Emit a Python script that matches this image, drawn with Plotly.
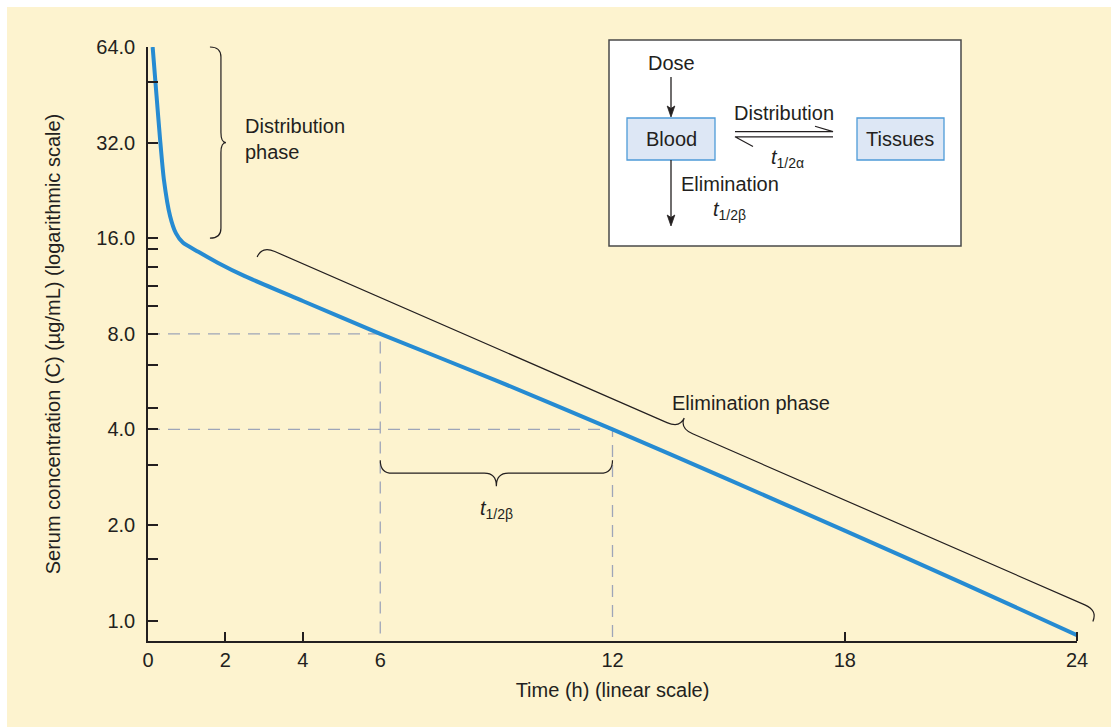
import numpy as np
import plotly.graph_objects as go

# ---------------- data ----------------
time_h = [0.12, 0.22, 0.31, 0.41, 0.57, 0.72, 0.9, 1.3, 1.8, 2.5, 4.0, 6, 9, 12, 15, 18, 21, 24]
conc = [64, 45, 33, 24.5, 18.8, 16.6, 15.5, 14.5, 13.4, 12.15, 10.15, 8.0, 5.7, 4.0, 2.78, 1.92, 1.32, 0.9]

x_tickvals = [0, 2, 4, 6, 12, 18, 24]
x_ticktext = ["0", "2", "4", "6", "12", "18", "24"]
x_minor_ticks = [2, 4, 18, 24]
y_tickvals = [1, 2, 4, 8, 16, 32, 64]
y_ticktext = ["1.0", "2.0", "4.0", "8.0", "16.0", "32.0", "64.0"]
y_minor_ticks = [1.56, 3.09, 4.68, 6.38, 9.79, 11.34, 13.0, 14.8, 49.8]

half_life_t = [6, 12]
half_life_c = [8.0, 4.0]

# ---------------- layout geometry ----------------
W, H = 1111, 727
L, R, T, B = 148, 1077, 47, 641
X_RANGE = [0, 24]
Y_RANGE = [float(np.log10(0.8626)), float(np.log10(64))]

INK = "#231F20"
CREAM = "#FDF3CF"
BLUE = "#268BD2"
DASH = "#9EA5B8"
FONT = "Liberation Sans, Arial, sans-serif"
FS = 20


def x2px(t):
    return L + (t - X_RANGE[0]) / (X_RANGE[1] - X_RANGE[0]) * (R - L)


def y2px(v):
    return B - (np.log10(v) - Y_RANGE[0]) / (Y_RANGE[1] - Y_RANGE[0]) * (B - T)


def pp(px, py):
    return (px - L) / (R - L), (B - py) / (B - T)


def path_str(cmds, close=False):
    out = []
    for c in cmds:
        if isinstance(c, str):
            out.append(c)
        else:
            x, y = pp(*c)
            out.append(f"{x:.5f},{y:.5f}")
    if close:
        out.append("Z")
    return " ".join(out)


def brace(A, Bp, h, tip, r):
    A = np.array(A, float)
    Bp = np.array(Bp, float)
    d = Bp - A
    ln = np.hypot(*d)
    u = d / ln
    n = np.array([u[1], -u[0]])
    M = (A + Bp) / 2
    pts = [
        "M", A,
        "Q", A + n * h, A + u * r + n * h,
        "L", M - u * r + n * h,
        "Q", M + n * h, M + n * tip,
        "Q", M + n * h, M + u * r + n * h,
        "L", Bp - u * r + n * h,
        "Q", Bp + n * h, Bp,
    ]
    return path_str([p if isinstance(p, str) else tuple(p) for p in pts])


fig = go.Figure()

# dashed half-life guides
for tt, cc in zip(half_life_t, half_life_c):
    fig.add_trace(go.Scatter(
        x=[0, tt, tt], y=[cc, cc, 0.5], mode="lines",
        line=dict(color=DASH, width=1.3, dash="12px,8px"),
        hoverinfo="skip", showlegend=False))

# concentration curve
fig.add_trace(go.Scatter(
    x=time_h, y=conc, mode="lines",
    line=dict(color=BLUE, width=4, shape="spline", smoothing=0.6),
    showlegend=False))

shapes = []
annotations = []

# background: white strips top/left
shapes.append(dict(type="rect", xref="paper", yref="paper",
                   x0=pp(0, 0)[0], y0=pp(0, 0)[1], x1=pp(W, 7)[0], y1=pp(W, 7)[1],
                   fillcolor="white", line=dict(width=0), layer="below"))
shapes.append(dict(type="rect", xref="paper", yref="paper",
                   x0=pp(0, 0)[0], y0=pp(0, 0)[1], x1=pp(7, H)[0], y1=pp(7, H)[1],
                   fillcolor="white", line=dict(width=0), layer="below"))

# braces
dist_x = x2px(1.6)
shapes.append(dict(type="path", xref="paper", yref="paper",
                   path=brace((dist_x, y2px(64)), (dist_x, y2px(16)), 11, 16, 10),
                   line=dict(color=INK, width=1.2)))
hb_y = y2px(3.2)
shapes.append(dict(type="path", xref="paper", yref="paper",
                   path=brace((x2px(12), hb_y), (x2px(6), hb_y), 13, 26, 12),
                   line=dict(color=INK, width=1.2)))
shapes.append(dict(type="path", xref="paper", yref="paper",
                   path=brace((x2px(2.82), y2px(13.97)), (x2px(24.41), y2px(0.994)), 12, 23, 14),
                   line=dict(color=INK, width=1.2)))


# inset diagram
def rect_px(x0, y0, x1, y1, fill, color, width):
    a = pp(x0, y1)
    b = pp(x1, y0)
    return dict(type="rect", xref="paper", yref="paper", x0=a[0], y0=a[1], x1=b[0], y1=b[1],
                fillcolor=fill, line=dict(color=color, width=width))


shapes.append(rect_px(609, 40, 961, 246, "white", "#4A4A4A", 1.5))
shapes.append(rect_px(627, 118, 715, 160, "#DDE7F5", "#4E9BD8", 1.3))
shapes.append(rect_px(857, 118, 944, 160, "#DDE7F5", "#4E9BD8", 1.3))
shapes.append(dict(type="path", xref="paper", yref="paper",
                   path=path_str(["M", (735, 131.7), "L", (833, 131.7), "L", (815, 126.3)]),
                   line=dict(color=INK, width=1.2)))
shapes.append(dict(type="path", xref="paper", yref="paper",
                   path=path_str(["M", (833, 136.8), "L", (735, 136.8), "L", (753, 146.5)]),
                   line=dict(color=INK, width=1.2)))


def arrow_down(x, y_tail, y_head):
    shapes.append(dict(type="path", xref="paper", yref="paper",
                       path=path_str(["M", (x, y_tail), "L", (x, y_head - 8)]),
                       line=dict(color=INK, width=1.3)))
    shapes.append(dict(type="path", xref="paper", yref="paper",
                       path=path_str(["M", (x, y_head), "L", (x - 3.8, y_head - 11),
                                      "L", (x, y_head - 8.5), "L", (x + 3.8, y_head - 11)], close=True),
                       fillcolor=INK, line=dict(color=INK, width=0.8)))


arrow_down(671, 77, 117)
arrow_down(671, 160, 226)


def text_px(x, y, s, xanchor="center", yanchor="middle", align="center", size=FS):
    px, py = pp(x, y)
    annotations.append(dict(x=px, y=py, xref="paper", yref="paper", text=s,
                            showarrow=False, xanchor=xanchor, yanchor=yanchor, align=align,
                            font=dict(family=FONT, size=size, color=INK)))


text_px(671, 63, "Dose")
text_px(671, 139, "Blood")
text_px(900, 139, "Tissues")
text_px(784, 113, "Distribution")
text_px(787, 158, "<i>t</i><sub>1/2α</sub>")
text_px(730, 184, "Elimination")
text_px(729, 210, "<i>t</i><sub>1/2β</sub>")

# chart annotations
text_px(243, 139, "Distribution<br>phase", xanchor="left", align="left")
text_px(670, 403, "Elimination phase", xanchor="left", align="left")
text_px((x2px(6) + x2px(12)) / 2, hb_y + 49, "<i>t</i><sub>1/2β</sub>")

fig.update_layout(
    width=W, height=H,
    margin=dict(l=L, r=W - R, t=T, b=H - B, pad=0),
    paper_bgcolor=CREAM, plot_bgcolor=CREAM,
    font=dict(family=FONT, size=FS, color=INK),
    shapes=shapes, annotations=annotations,
    showlegend=False,
    xaxis=dict(
        range=X_RANGE, showgrid=False, zeroline=False,
        showline=True, linecolor=INK, linewidth=1.5,
        tickmode="array", tickvals=x_tickvals, ticktext=x_ticktext,
        ticks="", ticklabelstandoff=0,
        tickfont=dict(family=FONT, size=FS, color=INK),
        minor=dict(tickmode="array", tickvals=x_minor_ticks, ticks="inside",
                   ticklen=9, tickwidth=1.5, tickcolor=INK, showgrid=False),
        title=dict(text="Time (h) (linear scale)", standoff=13,
                   font=dict(family=FONT, size=FS, color=INK)),
        automargin=False,
    ),
    yaxis=dict(
        type="log", range=Y_RANGE, showgrid=False, zeroline=False,
        showline=True, linecolor=INK, linewidth=1.5,
        tickmode="array", tickvals=y_tickvals, ticktext=y_ticktext,
        ticks="inside", ticklen=10, tickwidth=1.5, tickcolor=INK,
        ticklabelstandoff=7,
        tickfont=dict(family=FONT, size=FS, color=INK),
        minor=dict(tickmode="array", tickvals=y_minor_ticks, ticks="inside",
                   ticklen=10, tickwidth=1.5, tickcolor=INK, showgrid=False),
        title=dict(text="Serum concentration (C) (µg/mL) (logarithmic scale)", standoff=30,
                   font=dict(family=FONT, size=FS, color=INK)),
        automargin=False,
    ),
)

fig.write_html("out.html")
